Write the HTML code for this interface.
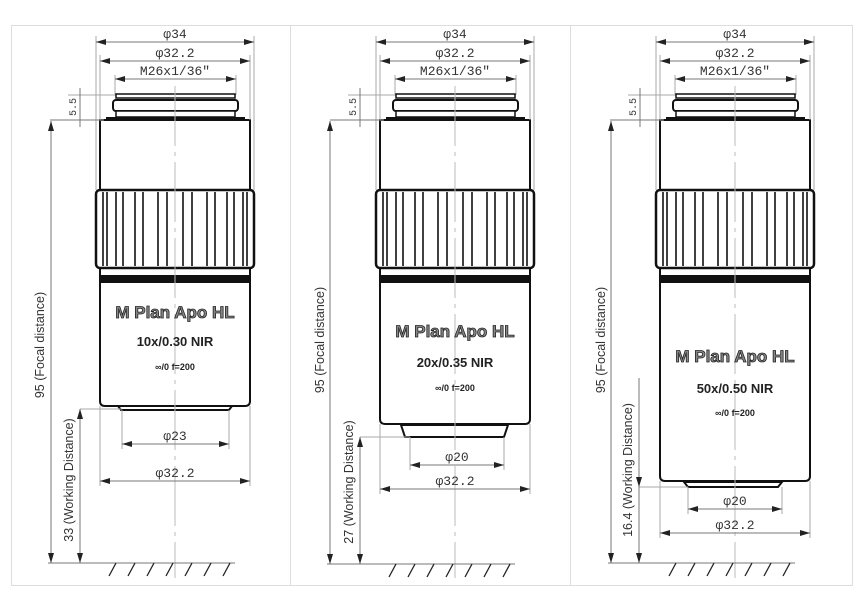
<!DOCTYPE html>
<html><head><meta charset="utf-8"><style>
body{margin:0;background:#fff}
svg{display:block}
.dim{stroke:#777;stroke-width:1;fill:none}
.ext{stroke:#aaa;stroke-width:1;fill:none}
.ctr{stroke:#bbb;stroke-width:1;stroke-dasharray:60 6 4 6;fill:none}
.ol{stroke:#111;stroke-width:2;fill:#fff}
.t{font-family:"Liberation Mono",monospace;font-size:13px;fill:#333;text-anchor:middle}
.lab{font-family:"Liberation Sans",sans-serif;font-size:12.5px;fill:#333;text-anchor:middle}
.b1{font-family:"Liberation Sans",sans-serif;font-weight:bold;font-size:17px;fill:#888;stroke:#222;stroke-width:.8;text-anchor:middle}
.b2{font-family:"Liberation Sans",sans-serif;font-weight:bold;font-size:13px;fill:#222;text-anchor:middle}
.b3{font-family:"Liberation Sans",sans-serif;font-weight:bold;font-size:9px;fill:#222;text-anchor:middle}
</style></head><body>
<svg width="864" height="611" viewBox="0 0 864 611" xmlns="http://www.w3.org/2000/svg">
<defs>
<marker id="a" viewBox="0 0 10 6" refX="10" refY="3" markerWidth="10" markerHeight="6" markerUnits="userSpaceOnUse" orient="auto-start-reverse"><path d="M0,0L10,3L0,6z" fill="#222"/></marker>
<g id="top">
 <line class="ext" x1="96" y1="36" x2="96" y2="190"/><line class="ext" x1="254" y1="36" x2="254" y2="190"/>
 <line class="ext" x1="100" y1="55" x2="100" y2="120"/><line class="ext" x1="250" y1="55" x2="250" y2="120"/>
 <line class="ext" x1="115" y1="75" x2="115" y2="95"/><line class="ext" x1="236" y1="75" x2="236" y2="95"/>
 <line class="dim" x1="96" y1="42" x2="254" y2="42" marker-start="url(#a)" marker-end="url(#a)"/>
 <line class="dim" x1="100" y1="61" x2="250" y2="61" marker-start="url(#a)" marker-end="url(#a)"/>
 <line class="dim" x1="115" y1="79" x2="236" y2="79" marker-start="url(#a)" marker-end="url(#a)"/>
 <line class="ext" x1="68" y1="95" x2="116" y2="95"/><line class="ext" x1="68" y1="120" x2="104" y2="120"/>
 <line class="dim" x1="80" y1="88" x2="80" y2="127"/>
 <line class="dim" x1="50" y1="120" x2="100" y2="120"/>
 <rect x="116" y="94" width="119" height="4" fill="#fff" stroke="#111" stroke-width="1.5"/>
 <rect x="113" y="100" width="125" height="11" rx="3" fill="#fff" stroke="#111" stroke-width="2"/>
 <rect x="116" y="111" width="119" height="6" fill="#fff" stroke="#111" stroke-width="1.5"/>
 <rect x="106" y="117" width="139" height="3" fill="#111"/>
 <rect x="96" y="190" width="158" height="78" rx="4" fill="#fff" stroke="#111" stroke-width="2.5"/>
 <g stroke="#111" stroke-width="1.6">
  <line x1="103" y1="192" x2="103" y2="266"/><line x1="107" y1="192" x2="107" y2="266"/>
  <line x1="116" y1="192" x2="116" y2="266"/><line x1="123" y1="192" x2="123" y2="266"/>
  <line x1="135" y1="192" x2="135" y2="266"/><line x1="143" y1="192" x2="143" y2="266"/>
  <line x1="158" y1="192" x2="158" y2="266"/><line x1="167" y1="192" x2="167" y2="266"/>
  <line x1="183" y1="192" x2="183" y2="266"/><line x1="192" y1="192" x2="192" y2="266"/>
  <line x1="207" y1="192" x2="207" y2="266"/><line x1="215" y1="192" x2="215" y2="266"/>
  <line x1="227" y1="192" x2="227" y2="266"/><line x1="234" y1="192" x2="234" y2="266"/>
  <line x1="243" y1="192" x2="243" y2="266"/><line x1="247" y1="192" x2="247" y2="266"/>
 </g>
 <rect x="100" y="275" width="150" height="8" fill="#111"/>
</g>
</defs>

<rect x="11.5" y="25.5" width="841" height="560" fill="none" stroke="#ddd"/>
<line x1="290.5" y1="25" x2="290.5" y2="586" stroke="#ddd"/>
<line x1="570.5" y1="25" x2="570.5" y2="586" stroke="#ddd"/>

<!-- Panel 1 -->
<path class="ol" d="M100,120 V401 Q100,406 105,406 H245 Q250,406 250,401 V120 Z"/>
<use href="#top"/>
<path d="M118,406 H232 L229,410 H121 Z" fill="#fff" stroke="#111" stroke-width="2"/>
<line class="ctr" x1="175" y1="86" x2="175" y2="578"/>
<text class="t" x="175" y="38">φ34</text><text class="t" x="175" y="57">φ32.2</text><text class="t" x="175" y="75">M26x1/36"</text>
<text class="t" transform="translate(76,107) rotate(-90)" style="font-size:10px">5.5</text>
<text class="b1" x="175" y="318">M Plan Apo HL</text>
<text class="b2" x="175" y="346">10x/0.30 NIR</text>
<text class="b3" x="175" y="370">∞/0 f=200</text>
<line class="ext" x1="80" y1="409" x2="122" y2="409"/>
<line class="ext" x1="122" y1="410" x2="122" y2="449"/><line class="ext" x1="229" y1="410" x2="229" y2="449"/>
<line class="dim" x1="122" y1="444" x2="229" y2="444" marker-start="url(#a)" marker-end="url(#a)"/>
<text class="t" x="175" y="440">φ23</text>
<line class="ext" x1="100" y1="406" x2="100" y2="486"/><line class="ext" x1="250" y1="406" x2="250" y2="486"/>
<line class="dim" x1="100" y1="481" x2="250" y2="481" marker-start="url(#a)" marker-end="url(#a)"/>
<text class="t" x="175" y="477">φ32.2</text>
<line class="dim" x1="51" y1="121" x2="51" y2="563" marker-start="url(#a)" marker-end="url(#a)"/>
<line class="dim" x1="80" y1="409" x2="80" y2="563" marker-start="url(#a)" marker-end="url(#a)"/>
<line class="dim" x1="48" y1="563" x2="235" y2="563"/>
<text class="lab" transform="translate(44,345) rotate(-90)">95 (Focal distance)</text>
<text class="lab" transform="translate(73,480) rotate(-90)">33 (Working Distance)</text>
<g stroke="#222" stroke-width="1.3"><line x1="116" y1="563" x2="109" y2="576"/><line x1="135" y1="563" x2="128" y2="576"/><line x1="154" y1="563" x2="147" y2="576"/><line x1="173" y1="563" x2="166" y2="576"/><line x1="192" y1="563" x2="185" y2="576"/><line x1="211" y1="563" x2="204" y2="576"/><line x1="230" y1="563" x2="223" y2="576"/></g>

<!-- Panel 2 -->
<path class="ol" d="M380,120 V419 Q380,424 385,424 H525 Q530,424 530,419 V120 Z"/>
<use href="#top" x="280"/>
<path d="M401,425 H508 L504,437 H405 Z" fill="#fff" stroke="#111" stroke-width="2"/>
<line class="ctr" x1="455" y1="86" x2="455" y2="578"/>
<text class="t" x="455" y="38">φ34</text><text class="t" x="455" y="57">φ32.2</text><text class="t" x="455" y="75">M26x1/36"</text>
<text class="t" transform="translate(356,107) rotate(-90)" style="font-size:10px">5.5</text>
<text class="b1" x="455" y="337">M Plan Apo HL</text>
<text class="b2" x="455" y="367">20x/0.35  NIR</text>
<text class="b3" x="455" y="391">∞/0 f=200</text>
<line class="ext" x1="360" y1="437" x2="410" y2="437"/>
<line class="ext" x1="410" y1="437" x2="410" y2="470"/><line class="ext" x1="504" y1="437" x2="504" y2="470"/>
<line class="dim" x1="410" y1="465" x2="504" y2="465" marker-start="url(#a)" marker-end="url(#a)"/>
<text class="t" x="457" y="461">φ20</text>
<line class="ext" x1="380" y1="424" x2="380" y2="494"/><line class="ext" x1="530" y1="424" x2="530" y2="494"/>
<line class="dim" x1="380" y1="489" x2="530" y2="489" marker-start="url(#a)" marker-end="url(#a)"/>
<text class="t" x="455" y="485">φ32.2</text>
<line class="dim" x1="330" y1="121" x2="330" y2="564" marker-start="url(#a)" marker-end="url(#a)"/>
<line class="dim" x1="360" y1="437" x2="360" y2="564" marker-start="url(#a)" marker-end="url(#a)"/>
<line class="dim" x1="327" y1="564" x2="515" y2="564"/>
<text class="lab" transform="translate(324,340) rotate(-90)">95 (Focal distance)</text>
<text class="lab" transform="translate(353,482) rotate(-90)">27 (Working Distance)</text>
<g stroke="#222" stroke-width="1.3"><line x1="396" y1="564" x2="389" y2="577"/><line x1="415" y1="564" x2="408" y2="577"/><line x1="434" y1="564" x2="427" y2="577"/><line x1="453" y1="564" x2="446" y2="577"/><line x1="472" y1="564" x2="465" y2="577"/><line x1="491" y1="564" x2="484" y2="577"/><line x1="510" y1="564" x2="503" y2="577"/></g>

<!-- Panel 3 -->
<path class="ol" d="M660,120 V476 Q660,481 665,481 H805 Q810,481 810,476 V120 Z"/>
<use href="#top" x="560"/>
<path d="M684,482 H782 L778,487 H688 Z" fill="#fff" stroke="#111" stroke-width="2"/>
<line class="ctr" x1="735" y1="86" x2="735" y2="578"/>
<text class="t" x="735" y="38">φ34</text><text class="t" x="735" y="57">φ32.2</text><text class="t" x="735" y="75">M26x1/36"</text>
<text class="t" transform="translate(636,107) rotate(-90)" style="font-size:10px">5.5</text>
<text class="b1" x="735" y="362">M Plan Apo HL</text>
<text class="b2" x="735" y="393">50x/0.50 NIR</text>
<text class="b3" x="735" y="416">∞/0 f=200</text>
<line class="ext" x1="639" y1="487" x2="688" y2="487"/>
<line class="ext" x1="688" y1="487" x2="688" y2="514"/><line class="ext" x1="782" y1="487" x2="782" y2="514"/>
<line class="dim" x1="688" y1="509" x2="782" y2="509" marker-start="url(#a)" marker-end="url(#a)"/>
<text class="t" x="735" y="505">φ20</text>
<line class="ext" x1="660" y1="481" x2="660" y2="538"/><line class="ext" x1="810" y1="481" x2="810" y2="538"/>
<line class="dim" x1="660" y1="533" x2="810" y2="533" marker-start="url(#a)" marker-end="url(#a)"/>
<text class="t" x="735" y="529">φ32.2</text>
<line class="dim" x1="611" y1="121" x2="611" y2="563" marker-start="url(#a)" marker-end="url(#a)"/>
<line class="dim" x1="639" y1="378" x2="639" y2="563"/>
<line class="dim" x1="639" y1="480" x2="639" y2="487" marker-end="url(#a)"/>
<line class="dim" x1="639" y1="552" x2="639" y2="563" marker-end="url(#a)"/>
<line class="dim" x1="608" y1="563" x2="795" y2="563"/>
<text class="lab" transform="translate(605,340) rotate(-90)">95 (Focal distance)</text>
<text class="lab" transform="translate(632,470) rotate(-90)">16.4 (Working Distance)</text>
<g stroke="#222" stroke-width="1.3"><line x1="676" y1="563" x2="669" y2="576"/><line x1="695" y1="563" x2="688" y2="576"/><line x1="714" y1="563" x2="707" y2="576"/><line x1="733" y1="563" x2="726" y2="576"/><line x1="752" y1="563" x2="745" y2="576"/><line x1="771" y1="563" x2="764" y2="576"/><line x1="790" y1="563" x2="783" y2="576"/></g>
</svg>
</body></html>
